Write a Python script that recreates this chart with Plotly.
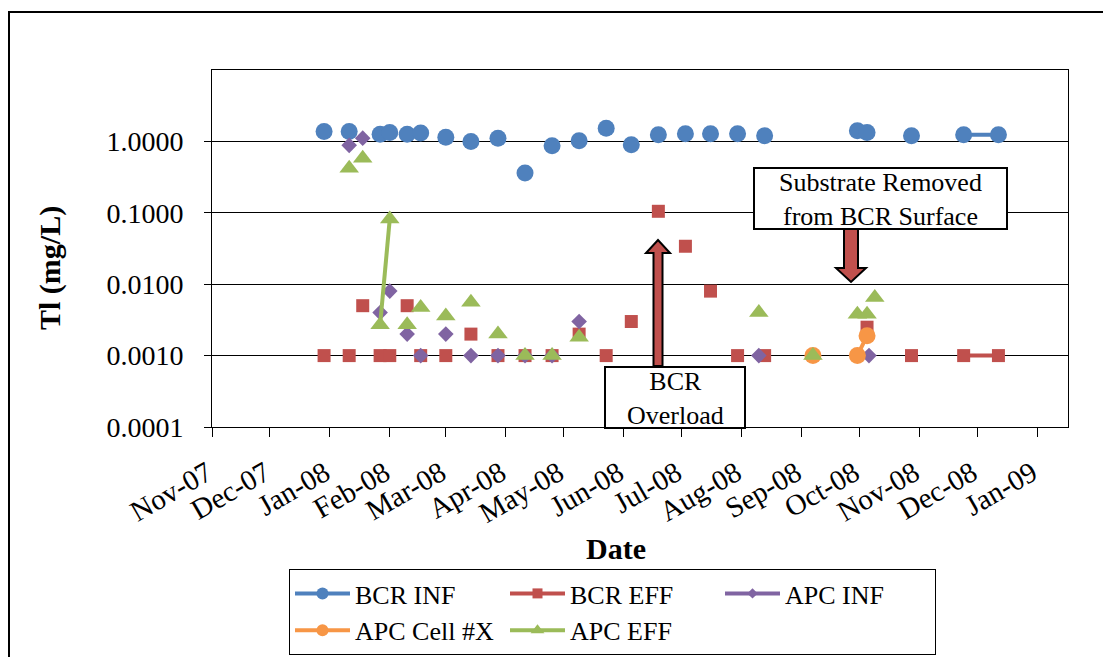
import plotly.graph_objects as go

# ---------------- data ----------------
bcr_inf_dates = ["2007-12-29", "2008-01-11", "2008-01-27", "2008-02-01", "2008-02-10", "2008-02-17",
                 "2008-03-01", "2008-03-14", "2008-03-28", "2008-04-11", "2008-04-25", "2008-05-09",
                 "2008-05-23", "2008-06-05", "2008-06-19", "2008-07-03", "2008-07-16", "2008-07-30",
                 "2008-08-13", "2008-09-30", "2008-10-05", "2008-10-28", "2008-11-24", "2008-12-12"]
bcr_inf_vals = [1.38, 1.38, 1.26, 1.33, 1.26, 1.31, 1.14, 1.00, 1.11, 0.36, 0.87, 1.02,
                1.53, 0.90, 1.24, 1.28, 1.28, 1.28, 1.20, 1.41, 1.33, 1.20, 1.24, 1.24]
bcr_inf_links = ["2008-01-27", "2008-09-30", "2008-11-24"]

bcr_eff_dates = ["2007-12-29", "2008-01-11", "2008-01-18", "2008-01-27", "2008-02-01", "2008-02-10",
                 "2008-02-17", "2008-03-01", "2008-03-14", "2008-03-28", "2008-04-11", "2008-04-25",
                 "2008-05-09", "2008-05-23", "2008-06-05", "2008-06-19", "2008-07-03", "2008-07-16",
                 "2008-07-30", "2008-08-13", "2008-10-05", "2008-10-28", "2008-11-24", "2008-12-12"]
bcr_eff_vals = [0.001, 0.001, 0.005, 0.001, 0.001, 0.005, 0.001, 0.001, 0.002, 0.001, 0.001, 0.001,
                0.002, 0.001, 0.003, 0.105, 0.034, 0.008, 0.001, 0.001, 0.0025, 0.001, 0.001, 0.001]
bcr_eff_links = ["2008-01-27", "2008-11-24"]

apc_inf_dates = ["2008-01-11", "2008-01-18", "2008-01-27", "2008-02-01", "2008-02-10", "2008-02-17",
                 "2008-03-01", "2008-03-14", "2008-03-28", "2008-04-11", "2008-04-25", "2008-05-09",
                 "2008-08-10", "2008-10-06"]
apc_inf_vals = [0.88, 1.11, 0.004, 0.008, 0.002, 0.001, 0.002, 0.001, 0.001, 0.001, 0.001, 0.003,
                0.001, 0.001]
apc_inf_links = []

apc_cell_dates = ["2008-09-07", "2008-09-30", "2008-10-05"]
apc_cell_vals = [0.001, 0.001, 0.0019]
apc_cell_links = ["2008-09-30"]

apc_eff_dates = ["2008-01-11", "2008-01-18", "2008-01-27", "2008-02-01", "2008-02-10", "2008-02-17",
                 "2008-03-01", "2008-03-14", "2008-03-28", "2008-04-11", "2008-04-25", "2008-05-09",
                 "2008-08-10", "2008-09-07", "2008-09-30", "2008-10-05", "2008-10-09"]
apc_eff_vals = [0.42, 0.58, 0.0027, 0.082, 0.0027, 0.0047, 0.0036, 0.0056, 0.002, 0.001, 0.001, 0.0018,
                0.004, 0.001, 0.0038, 0.0038, 0.0065]
apc_eff_links = ["2008-01-27"]

y_tick_vals = [0.0001, 0.001, 0.01, 0.1, 1]
y_tick_text = ["0.0001", "0.0010", "0.0100", "0.1000", "1.0000"]

# ---------------- layout constants (pixels) ----------------
FIG_W, FIG_H = 1103, 657
L, R, T, B = 212, 1068, 70, 427
PW, PH = R - L, B - T
FONT = "Liberation Serif"


def px(xp):
    return (xp - L) / PW


def py(yp):
    return (B - yp) / PH


def with_gaps(dates, vals, links):
    xs, ys = [], []
    for d, v in zip(dates, vals):
        xs.append(d)
        ys.append(v)
        if d not in links:
            xs.append(d)
            ys.append(None)
    return xs, ys


series = [
    ("BCR INF", bcr_inf_dates, bcr_inf_vals, bcr_inf_links, "#4F81BD", "circle", 17, 12),
    ("BCR EFF", bcr_eff_dates, bcr_eff_vals, bcr_eff_links, "#C0504D", "square", 13, 10),
    ("APC INF", apc_inf_dates, apc_inf_vals, apc_inf_links, "#8064A2", "diamond", 12, 8),
    ("APC Cell #X", apc_cell_dates, apc_cell_vals, apc_cell_links, "#F79646", "circle", 17, 12),
    ("APC EFF", apc_eff_dates, apc_eff_vals, apc_eff_links, "#9BBB59", "triangle-up", 17, 12),
]

fig = go.Figure()
for name, d, v, lk, col, sym, sz, lsz in series:
    xs, ys = with_gaps(d, v, lk)
    fig.add_trace(go.Scatter(
        x=xs, y=ys, mode="lines+markers", name=name, showlegend=False,
        connectgaps=False, line=dict(color=col, width=4),
        marker=dict(symbol=sym, size=sz, color=col, line=dict(width=0)),
    ))
for name, d, v, lk, col, sym, sz, lsz in series:
    fig.add_trace(go.Scatter(
        x=[None], y=[None], mode="lines+markers", name=name, showlegend=True,
        line=dict(color=col, width=4),
        marker=dict(symbol=sym, size=lsz, color=col, line=dict(width=0)),
    ))

fig.update_layout(
    width=FIG_W, height=FIG_H, autosize=False,
    margin=dict(l=L, r=FIG_W - R, t=T, b=FIG_H - B, pad=0, autoexpand=False),
    paper_bgcolor="white", plot_bgcolor="white",
    font=dict(family=FONT, size=26, color="black"),
    showlegend=True,
    legend=dict(
        orientation="h", x=px(289), y=py(569), xanchor="left", yanchor="top",
        bordercolor="black", borderwidth=1, bgcolor="white",
        entrywidth=145, entrywidthmode="pixels", itemwidth=55,
        font=dict(family=FONT, size=26, color="black"), tracegroupgap=0,
    ),
)

fig.update_xaxes(
    type="date", range=["2007-11-01", "2009-01-17"],
    tick0="2007-11-01", dtick="M1", tickformat="%b-%y", tickangle=-30,
    ticks="outside", ticklen=9, tickcolor="black", tickwidth=1,
    showline=True, linecolor="black", linewidth=1, mirror=True,
    showgrid=False, zeroline=False,
    tickfont=dict(family=FONT, size=29, color="black"),
    ticklabelstandoff=8, ticklabelshift=-5,
)
fig.update_yaxes(
    type="log", range=[-4, 1],
    tickvals=y_tick_vals, ticktext=y_tick_text,
    ticks="outside", ticklen=7, tickcolor="black", tickwidth=1,
    showline=True, linecolor="black", linewidth=1, mirror=True,
    showgrid=True, gridcolor="black", gridwidth=1, zeroline=False,
    tickfont=dict(family=FONT, size=28, color="black"),
    ticklabelstandoff=15,
)

# axis titles
fig.add_annotation(text="<b>Date</b>", xref="paper", yref="paper", x=px(616), y=py(548),
                   showarrow=False, font=dict(family=FONT, size=30, color="black"),
                   xanchor="center", yanchor="middle")
fig.add_annotation(text="<b>Tl (mg/L)</b>", xref="paper", yref="paper", x=px(50), y=py(268),
                   showarrow=False, textangle=-90, font=dict(family=FONT, size=30, color="black"),
                   xanchor="center", yanchor="middle")

shapes = []
# outer chart frame
shapes.append(dict(type="rect", xref="paper", yref="paper", x0=px(9), x1=px(1120), y0=py(12), y1=py(680),
                   line=dict(color="black", width=2), fillcolor="rgba(0,0,0,0)", layer="above"))


def poly(points):
    return "M " + " L ".join(f"{px(a):.5f},{py(b):.5f}" for a, b in points) + " Z"


# BCR Overload arrow (up)
up = [(653.5, 366), (653.5, 253), (646, 253), (658, 240), (670, 253), (662.5, 253), (662.5, 366)]
shapes.append(dict(type="path", xref="paper", yref="paper", path=poly(up),
                   fillcolor="#C0504D", line=dict(color="black", width=2), layer="above"))
# Substrate arrow (down)
down = [(844, 229), (844, 268), (836, 268), (851, 282), (866, 268), (858, 268), (858, 229)]
shapes.append(dict(type="path", xref="paper", yref="paper", path=poly(down),
                   fillcolor="#C0504D", line=dict(color="black", width=2), layer="above"))
# text boxes
shapes.append(dict(type="rect", xref="paper", yref="paper", x0=px(605), x1=px(745), y0=py(367), y1=py(428),
                   line=dict(color="black", width=2), fillcolor="white", layer="above"))
shapes.append(dict(type="rect", xref="paper", yref="paper", x0=px(754), x1=px(1007), y0=py(168), y1=py(229),
                   line=dict(color="black", width=2), fillcolor="white", layer="above"))
fig.update_layout(shapes=shapes)

fig.add_annotation(text="BCR<br>Overload", xref="paper", yref="paper", x=px(675), y=py(398.5),
                   showarrow=False, font=dict(family=FONT, size=26, color="black"),
                   xanchor="center", yanchor="middle")
fig.add_annotation(text="Substrate Removed<br>from BCR Surface", xref="paper", yref="paper",
                   x=px(880.5), y=py(199.5), showarrow=False,
                   font=dict(family=FONT, size=26, color="black"),
                   xanchor="center", yanchor="middle")

fig.write_html("out.html")
